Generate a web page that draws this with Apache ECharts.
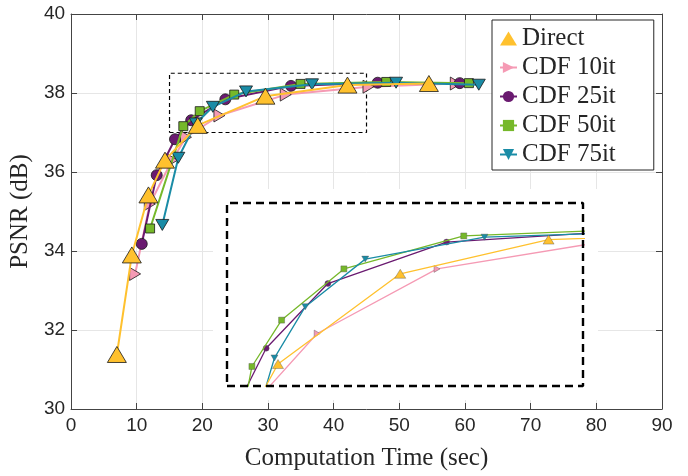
<!DOCTYPE html>
<html>
<head>
<meta charset="utf-8">
<script src="https://cdn.jsdelivr.net/npm/echarts@6/dist/echarts.min.js"></script>
<style>
  html, body { margin: 0; padding: 0; background: #fff; }
  #chart { width: 688px; height: 476px; }
</style>
</head>
<body>
<div id="chart"></div>
<script>
// values (time in sec, PSNR in dB)
const names = ['Direct', 'CDF 10it', 'CDF 25it', 'CDF 50it', 'CDF 75it'];
const timeDirect = [6.98, 9.26, 11.79, 14.31, 19.3, 29.6, 42.1, 54.5];
const psnrDirect = [31.38, 33.90, 35.42, 36.30, 37.18, 37.92, 38.20, 38.24];
const time10 = [9.76, 12.0, 15.4, 17.5, 22.6, 32.7, 45.3, 58.6];
const psnr10 = [33.42, 35.19, 36.30, 36.88, 37.43, 37.96, 38.16, 38.24];
const time25 = [10.77, 13.05, 15.83, 18.3, 23.5, 33.5, 46.7, 59.2];
const psnr25 = [34.18, 35.92, 36.83, 37.31, 37.84, 38.18, 38.26, 38.25];
const time50 = [12.04, 17.1, 19.6, 24.85, 34.95, 48.0, 60.6];
const psnr50 = [34.57, 37.16, 37.54, 37.96, 38.23, 38.28, 38.25];
const time75 = [13.9, 16.34, 19.0, 21.6, 26.65, 36.7, 49.5, 62.1];
const psnr75 = [34.66, 36.36, 37.23, 37.65, 38.04, 38.22, 38.26, 38.21];

// zoomed window shown in the inset
const zoomX = [15, 45];
const zoomY = [37, 38.5];

const xTicks = [0, 90, 10];
const yTicks = [30, 40, 2];

const colors  = ['#FFC12E', '#F59AB4', '#6A1A70', '#76B82A', '#1A8CA6'];
const symbols = ['triangle', 'triangle', 'circle', 'rect', 'triangle'];
const rotates = [0, -90, 0, 0, 180];
const sizeBig = [[19, 16], [13, 11], 11, 9, [13, 11]];
const sizeSmall = [[11, 9], [7, 6], 6, 6, [7, 6]];
const zs = [6, 2, 3, 4, 5];

const allX = [timeDirect, time10, time25, time50, time75];
const allY = [psnrDirect, psnr10, psnr25, psnr50, psnr75];

const pairs = (xs, ys) => xs.map((x, i) => [x, ys[i]]);
const serif = 'Liberation Serif';
const sans = 'Liberation Sans';
const ink = '#262626';

const series = [];
names.forEach((n, i) => {
  series.push({
    name: n, type: 'line', xAxisIndex: 0, yAxisIndex: 0,
    data: pairs(allX[i], allY[i]),
    symbol: symbols[i], symbolRotate: rotates[i], symbolSize: sizeBig[i],
    lineStyle: { color: colors[i], width: 2 },
    itemStyle: { color: colors[i], borderColor: '#1a1a1a', borderWidth: 0.8 },
    z: zs[i]
  });
});
names.forEach((n, i) => {
  series.push({
    name: n, type: 'line', xAxisIndex: 2, yAxisIndex: 2,
    data: pairs(allX[i], allY[i]),
    symbol: symbols[i], symbolRotate: rotates[i], symbolSize: sizeSmall[i],
    lineStyle: { color: colors[i], width: 1.3 },
    itemStyle: { color: colors[i], borderColor: '#555', borderWidth: 0.4 },
    clip: true,
    z: zs[i] + 10
  });
});

const box = [[zoomX[0], zoomY[0]], [zoomX[1], zoomY[0]], [zoomX[1], zoomY[1]],
             [zoomX[0], zoomY[1]], [zoomX[0], zoomY[0]]];
// dashed window on the main axes
series.push({
  type: 'line', xAxisIndex: 0, yAxisIndex: 0, data: box, symbol: 'none',
  lineStyle: { color: '#000', width: 1.2, type: [4, 3] }, z: 1, silent: true
});
// dashed frame of the inset
series.push({
  type: 'line', xAxisIndex: 2, yAxisIndex: 2, data: box, symbol: 'none', clip: false,
  lineStyle: { color: '#000', width: 2.4, type: [8, 5] }, z: 30, silent: true
});

const legendData = names.map((n, i) => i === 0 ? { name: n, icon: 'triangle' } : { name: n });

const chart = echarts.init(document.getElementById('chart'));
chart.setOption({
  animation: false,
  backgroundColor: '#fff',
  graphic: [{
    type: 'rect', z: 1,
    shape: { x: 213, y: 189, width: 385, height: 211 },
    style: { fill: '#fff' }
  }],
  grid: [
    { left: 69, top: 14, right: 26, bottom: 67 },
    { left: 227, top: 203, width: 356, height: 183 }
  ],
  legend: {
    data: legendData,
    orient: 'vertical',
    left: 492, top: 20,
    padding: [6, 38, 3, 7],
    itemWidth: 17, itemHeight: 14, itemGap: 4,
    itemStyle: { borderWidth: 0 },
    backgroundColor: '#fff',
    borderColor: ink, borderWidth: 1,
    textStyle: { fontFamily: serif, fontSize: 25, color: ink },
    z: 40
  },
  xAxis: [
    {
      gridIndex: 0, type: 'value', min: xTicks[0], max: xTicks[1], interval: xTicks[2],
      name: 'Computation Time (sec)', nameLocation: 'middle', nameGap: 37,
      nameTextStyle: { fontFamily: serif, fontSize: 25, color: ink },
      axisLine: { onZero: false, lineStyle: { color: '#444', width: 1 } },
      axisTick: { inside: true, length: 6, lineStyle: { color: '#444' } },
      axisLabel: { fontFamily: sans, fontSize: 19, color: ink, margin: 7 },
      splitLine: { show: true, lineStyle: { color: '#e6e6e6', width: 1 } }
    },
    {
      gridIndex: 0, type: 'value', position: 'top', min: xTicks[0], max: xTicks[1], interval: xTicks[2],
      axisLine: { onZero: false, lineStyle: { color: '#444', width: 1 } },
      axisTick: { inside: true, length: 6, lineStyle: { color: '#444' } },
      axisLabel: { show: false }, splitLine: { show: false }
    },
    {
      gridIndex: 1, type: 'value', min: zoomX[0], max: zoomX[1], show: false
    }
  ],
  yAxis: [
    {
      gridIndex: 0, type: 'value', min: yTicks[0], max: yTicks[1], interval: yTicks[2],
      name: 'PSNR (dB)', nameLocation: 'middle', nameGap: 34,
      nameTextStyle: { fontFamily: serif, fontSize: 25, color: ink },
      axisLine: { onZero: false, lineStyle: { color: '#444', width: 1 } },
      axisTick: { inside: true, length: 6, lineStyle: { color: '#444' } },
      axisLabel: { fontFamily: sans, fontSize: 19, color: ink, margin: 6 },
      splitLine: { show: true, lineStyle: { color: '#e6e6e6', width: 1 } }
    },
    {
      gridIndex: 0, type: 'value', position: 'right', min: yTicks[0], max: yTicks[1], interval: yTicks[2],
      axisLine: { show: true, onZero: false, lineStyle: { color: '#444', width: 1 } },
      axisTick: { show: true, inside: true, length: 6, lineStyle: { color: '#444' } },
      axisLabel: { show: false }, splitLine: { show: false }
    },
    {
      gridIndex: 1, type: 'value', min: zoomY[0], max: zoomY[1], show: false
    }
  ],
  series: series
});
</script>
</body>
</html>
